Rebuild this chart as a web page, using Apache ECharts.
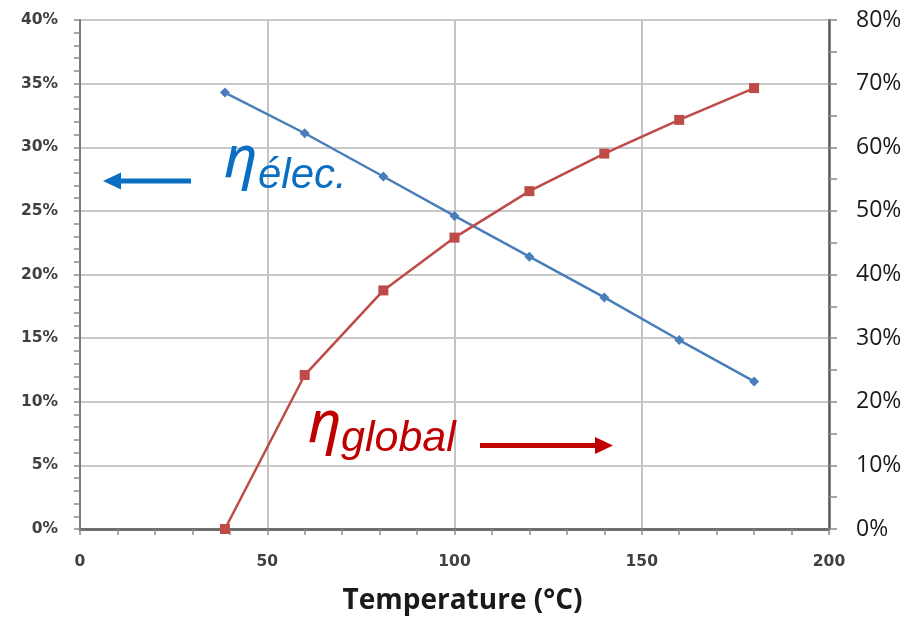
<!DOCTYPE html>
<html>
<head>
<meta charset="utf-8">
<script src="https://cdn.jsdelivr.net/npm/echarts@6/dist/echarts.min.js"></script>
<style>
html,body{margin:0;padding:0;background:#fff;}
#chart{width:913px;height:620px;}
</style>
</head>
<body>
<div id="chart"></div>
<script>
// Data
var temperatures = [38.7, 60, 81, 100, 120, 140, 160, 180];
var etaElec = [34.3, 31.1, 27.7, 24.6, 21.4, 18.2, 14.85, 11.6];      // left axis, %
var etaGlobal = [0, 24.2, 37.5, 45.8, 53.1, 59.0, 64.3, 69.3];        // right axis, %
var xTitle = 'Temperature (°C)';
var labelElecEta = 'η', labelElecSub = 'élec.';
var labelGlobEta = 'η', labelGlobSub = 'global';

function pairs(xs, ys){ return xs.map(function(x,i){ return [x, ys[i]]; }); }

var chart = echarts.init(document.getElementById('chart'), null, {renderer:'canvas'});
var blueText = '#0a6ec2', redText = '#c00000';

chart.setOption({
  animation: false,
  backgroundColor: '#ffffff',
  grid: {left: 80, right: 84, top: 20, bottom: 90, show: true, borderColor: '#3a3a3a', borderWidth: 2, backgroundColor: 'transparent'},
  xAxis: {
    type: 'value', min: 0, max: 200, interval: 50,
    name: xTitle, nameLocation: 'middle', nameGap: 58,
    nameTextStyle: {fontFamily: 'Open Sans', fontWeight: 'bold', fontSize: 28, color: '#1a1a1a', padding: [0,0,0,16]},
    axisLine: {show: true, onZero: false, lineStyle: {color: '#6e6e6e', width: 3}},
    axisTick: {show: true, length: 6, lineStyle: {color: '#8a8a8a', width: 1.5}},
    minorTick: {show: true, splitNumber: 5, length: 6, lineStyle: {color: '#8a8a8a', width: 1.5}},
    axisLabel: {margin: 25, fontFamily: 'DejaVu Sans', fontWeight: 'bold', fontSize: 15.5, color: '#404040'},
    splitLine: {show: true, lineStyle: {color: '#c4c4c4', width: 2}},
    minorSplitLine: {show: false}
  },
  yAxis: [{
    type: 'value', min: 0, max: 40, interval: 5, position: 'left',
    axisLine: {show: true, lineStyle: {color: '#7a7a7a', width: 2}},
    axisTick: {show: true, length: 6, lineStyle: {color: '#8a8a8a', width: 1.5}},
    minorTick: {show: true, splitNumber: 5, length: 6, lineStyle: {color: '#8a8a8a', width: 1.5}},
    axisLabel: {margin: 22, fontFamily: 'DejaVu Sans', fontWeight: 'bold', fontSize: 15.5, color: '#404040', formatter: '{value}%'},
    splitLine: {show: true, lineStyle: {color: '#c9c9c9', width: 2}}
  }, {
    type: 'value', min: 0, max: 80, interval: 10, position: 'right',
    axisLine: {show: true, lineStyle: {color: '#5e5e5e', width: 2.5}},
    axisTick: {show: true, length: 8, lineStyle: {color: '#8a8a8a', width: 1.5}},
    minorTick: {show: true, splitNumber: 2, length: 8, lineStyle: {color: '#8a8a8a', width: 1.5}},
    axisLabel: {margin: 27, fontFamily: 'Open Sans', fontSize: 23, color: '#1a1a1a', formatter: '{value}%'},
    splitLine: {show: false}
  }],
  series: [{
    name: 'eta_elec', type: 'line', yAxisIndex: 0,
    data: pairs(temperatures, etaElec),
    symbol: 'diamond', symbolSize: 10,
    lineStyle: {color: '#4a7ebb', width: 2.5},
    itemStyle: {color: '#4a7ebb'}, z: 3
  }, {
    name: 'eta_global', type: 'line', yAxisIndex: 1,
    data: pairs(temperatures, etaGlobal),
    symbol: 'rect', symbolSize: 10,
    lineStyle: {color: '#be4b48', width: 2.5},
    itemStyle: {color: '#be4b48'}, z: 4
  }],
  graphic: [
    // eta elec label
    {type: 'text', left: 224, top: 131, z: 10, style: {text: labelElecEta, font: 'italic 58px "Noto Sans"', fill: blueText}},
    {type: 'text', left: 258, top: 155, z: 10, style: {text: labelElecSub, font: 'italic 42px "Liberation Sans"', fill: blueText}},
    // left arrow
    {type: 'rect', z: 10, shape: {x: 118, y: 178.5, width: 73, height: 5}, style: {fill: blueText}},
    {type: 'polygon', z: 10, shape: {points: [[103, 181], [121, 172.5], [121, 189.5]]}, style: {fill: blueText}},
    // eta global label
    {type: 'text', left: 308, top: 396, z: 10, style: {text: labelGlobEta, font: 'italic 58px "Noto Sans"', fill: redText}},
    {type: 'text', left: 341, top: 418, z: 10, style: {text: labelGlobSub, font: 'italic 43px "Liberation Sans"', fill: redText}},
    // right arrow
    {type: 'rect', z: 10, shape: {x: 480, y: 443, width: 118, height: 5}, style: {fill: redText}},
    {type: 'polygon', z: 10, shape: {points: [[613, 445.5], [595, 437], [595, 454]]}, style: {fill: redText}}
  ]
});
</script>
</body>
</html>
